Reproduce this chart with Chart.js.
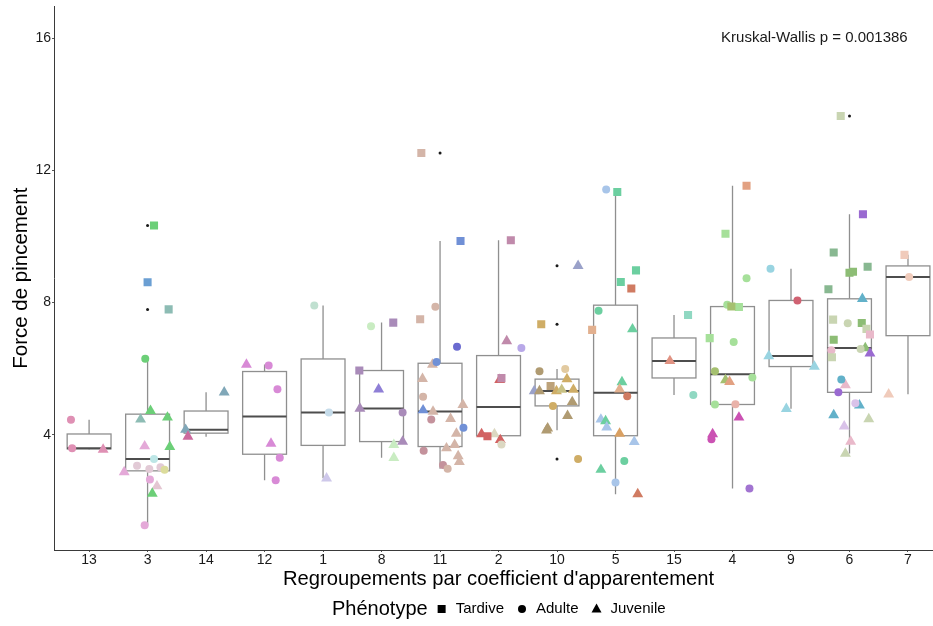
<!DOCTYPE html>
<html>
<head>
<meta charset="utf-8">
<title>Force de pincement</title>
<script src="https://cdn.jsdelivr.net/npm/chart.js@4.4.1/dist/chart.umd.min.js"></script>
<style>
	body { margin: 0; background: #fff; }
</style>
</head>
<body>
<canvas id="myChart" width="933" height="626"></canvas>
<script>
// groups, in the order of the x axis
const groups = ['13', '3', '14', '12', '1', '8', '11', '2', '10', '5', '15', '4', '9', '6', '7'];
const yTicks = [4, 8, 12, 16];
const statText = 'Kruskal-Wallis p = 0.001386';
const statAt = [12.4, 16]; // group units, force
const xTitle = "Regroupements par coefficient d'apparentement";

// rows: [group, jitter (in group units), force, family]
const tardive = [
	['3', 0.11, 10.33, 'green'], ['3', 0.00, 8.61, 'steel'], ['3', 0.36, 7.79, 'sea'],
	['8', 0.20, 7.39, 'mauve'], ['8', -0.38, 5.94, 'mauve'],
	['11', -0.32, 12.52, 'tan'], ['11', 0.35, 9.86, 'cobalt'], ['11', -0.34, 7.49, 'tan'],
	['2', 0.21, 9.88, 'plum'], ['2', 0.05, 5.71, 'plum'], ['2', -0.19, 3.95, 'brick'],
	['10', -0.27, 7.34, 'gold'], ['10', -0.11, 5.47, 'camel'],
	['5', 0.03, 11.34, 'aqua'], ['5', 0.35, 8.97, 'aqua'], ['5', 0.09, 8.62, 'aqua'],
	['5', 0.27, 8.42, 'rust'], ['5', -0.40, 7.17, 'peach'],
	['15', 0.24, 7.62, 'jade'],
	['4', 0.24, 11.53, 'apricot'], ['4', -0.12, 10.08, 'leaf'], ['4', 0.11, 7.86, 'leaf'],
	['4', -0.02, 7.88, 'moss'], ['4', -0.39, 6.92, 'leaf'],
	['6', -0.15, 13.64, 'sage'], ['6', 0.23, 10.67, 'purple'], ['6', -0.27, 9.51, 'fern'],
	['6', 0.00, 8.90, 'grass'], ['6', 0.06, 8.93, 'grass'], ['6', 0.31, 9.08, 'fern'],
	['6', -0.36, 8.40, 'fern'], ['6', -0.28, 7.48, 'sage'], ['6', 0.21, 7.38, 'grass'],
	['6', 0.29, 7.20, 'sage'], ['6', 0.35, 7.03, 'candy'], ['6', -0.27, 6.87, 'grass'],
	['6', -0.30, 6.34, 'sage'],
	['7', -0.06, 9.44, 'cream']
];

const adulte = [
	['13', -0.31, 4.45, 'rose'], ['13', -0.29, 3.59, 'rose'],
	['3', -0.04, 6.30, 'green'], ['3', 0.11, 3.26, 'ice'], ['3', -0.18, 3.06, 'blush'],
	['3', 0.03, 2.96, 'blush'], ['3', 0.22, 3.01, 'blush'], ['3', 0.29, 2.94, 'lime'],
	['3', 0.04, 2.64, 'orchid'], ['3', -0.05, 1.26, 'orchid'],
	['12', 0.07, 6.09, 'magenta'], ['12', 0.22, 5.37, 'magenta'], ['12', 0.26, 3.30, 'magenta'],
	['12', 0.19, 2.62, 'magenta'],
	['1', -0.15, 7.91, 'mint'], ['1', 0.10, 4.67, 'sky'],
	['8', -0.18, 7.28, 'pale'], ['8', 0.36, 4.67, 'mauve'],
	['11', -0.08, 7.87, 'tan'], ['11', 0.29, 6.66, 'indigo'], ['11', -0.06, 6.20, 'cobalt'],
	['11', -0.29, 5.15, 'tan'], ['11', -0.15, 4.46, 'rosewood'], ['11', 0.40, 4.21, 'cobalt'],
	['11', -0.28, 3.51, 'rosewood'], ['11', 0.05, 3.08, 'rosewood'], ['11', 0.13, 2.97, 'tan'],
	['2', 0.39, 6.62, 'lavender'], ['2', 0.05, 3.70, 'bone'],
	['10', -0.30, 5.92, 'khaki'], ['10', 0.14, 5.99, 'sand'], ['10', -0.07, 4.87, 'gold'],
	['10', 0.36, 3.26, 'gold'],
	['5', -0.16, 11.42, 'sky2'], ['5', -0.29, 7.75, 'aqua'], ['5', 0.20, 5.16, 'rust'],
	['5', 0.15, 3.20, 'aqua'], ['5', 0.00, 2.55, 'sky2'],
	['15', 0.33, 5.20, 'jade'],
	['4', 0.24, 8.73, 'leaf'], ['4', -0.09, 7.93, 'leaf'], ['4', 0.02, 6.80, 'leaf'],
	['4', -0.30, 5.92, 'moss'], ['4', 0.34, 5.73, 'leaf'], ['4', -0.30, 4.91, 'leaf'],
	['4', 0.05, 4.92, 'salmon'], ['4', -0.36, 3.86, 'fuchsia'], ['4', 0.29, 2.37, 'violet'],
	['9', -0.35, 9.02, 'cyan'], ['9', 0.11, 8.06, 'crimson'],
	['6', -0.03, 7.37, 'sage'], ['6', -0.31, 6.55, 'candy'], ['6', 0.19, 6.59, 'sage'],
	['6', -0.14, 5.67, 'teal'], ['6', -0.19, 5.28, 'purple'], ['6', 0.10, 4.95, 'thistle'],
	['7', 0.02, 8.77, 'cream']
];

const juvenile = [
	['13', 0.24, 3.55, 'rose'],
	['3', 0.05, 4.72, 'green'], ['3', -0.12, 4.46, 'sea'], ['3', 0.34, 4.52, 'green'],
	['3', -0.05, 3.65, 'orchid'], ['3', 0.38, 3.63, 'green'], ['3', -0.40, 2.87, 'orchid'],
	['3', 0.16, 2.44, 'shell'], ['3', 0.08, 2.22, 'green'],
	['14', 0.31, 5.28, 'slate'], ['14', -0.35, 4.15, 'slate'], ['14', -0.31, 3.94, 'berry'],
	['12', -0.31, 6.12, 'magenta'], ['12', 0.11, 3.73, 'magenta'],
	['1', 0.06, 2.68, 'lilac'],
	['8', -0.05, 5.37, 'iris'], ['8', -0.37, 4.79, 'mauve'], ['8', 0.21, 3.69, 'pale'],
	['8', 0.36, 3.79, 'mauve'], ['8', 0.21, 3.30, 'pale'],
	['11', -0.13, 6.12, 'tan'], ['11', -0.30, 5.69, 'tan'], ['11', 0.39, 4.90, 'tan'],
	['11', -0.29, 4.74, 'cobalt'], ['11', -0.12, 4.70, 'tan'], ['11', 0.18, 4.48, 'tan'],
	['11', 0.28, 4.03, 'tan'], ['11', 0.25, 3.69, 'tan'], ['11', 0.11, 3.59, 'tan'],
	['11', 0.31, 3.35, 'tan'], ['11', 0.33, 3.18, 'tan'],
	['2', 0.14, 6.83, 'plum'], ['2', 0.02, 5.66, 'brick'], ['2', -0.29, 4.02, 'brick'],
	['2', -0.07, 4.02, 'bone'], ['2', 0.03, 3.84, 'brick'],
	['10', 0.36, 9.11, 'dusk'], ['10', 0.17, 5.68, 'gold'], ['10', -0.39, 5.32, 'dusk'],
	['10', -0.30, 5.32, 'khaki'], ['10', -0.01, 5.32, 'gold'], ['10', 0.08, 5.36, 'olive'],
	['10', 0.28, 5.36, 'gold'], ['10', 0.26, 4.99, 'khaki'], ['10', 0.18, 4.57, 'khaki'],
	['10', -0.16, 4.19, 'khaki'], ['10', -0.18, 4.13, 'khaki'],
	['5', 0.29, 7.19, 'aqua'], ['5', 0.11, 5.59, 'aqua'], ['5', 0.07, 5.37, 'peach'],
	['5', -0.25, 4.46, 'sky2'], ['5', -0.17, 4.41, 'aqua'], ['5', -0.15, 4.22, 'sky2'],
	['5', 0.07, 4.03, 'amber'], ['5', 0.32, 3.78, 'sky2'], ['5', -0.25, 2.94, 'aqua'],
	['5', 0.38, 2.20, 'rust'],
	['15', -0.07, 6.23, 'coral'],
	['4', -0.12, 5.65, 'moss'], ['4', -0.05, 5.60, 'apricot'], ['4', 0.11, 4.52, 'fuchsia'],
	['4', -0.34, 4.02, 'fuchsia'],
	['9', -0.38, 6.38, 'cyan'], ['9', 0.40, 6.06, 'cyan'], ['9', -0.08, 4.78, 'cyan'],
	['6', 0.22, 8.11, 'teal'], ['6', 0.27, 6.62, 'grass'], ['6', 0.35, 6.46, 'purple'],
	['6', -0.07, 5.50, 'candy'], ['6', 0.17, 4.89, 'teal'], ['6', -0.27, 4.59, 'teal'],
	['6', 0.33, 4.47, 'sage'], ['6', -0.09, 4.25, 'thistle'], ['6', 0.02, 3.79, 'candy'],
	['6', -0.07, 3.43, 'sage'],
	['7', -0.33, 5.22, 'cream']
];

const palette = {
	rose: '#df90b4', green: '#6ccf78', steel: '#6b9fd3', sea: '#8dbcb4', orchid: '#e4a9d8',
	ice: '#bde6e6', blush: '#e2cad6', lime: '#dcdc9c', shell: '#e4c6d2', slate: '#80a7b8',
	berry: '#cc6a9e', magenta: '#d88ad6', mint: '#c0e0d0', sky: '#c6dcea', lilac: '#cec8ea',
	pale: '#c9ecc2', mauve: '#a98bb9', iris: '#8f7fd6', tan: '#d4b5a8', cobalt: '#7090d6',
	indigo: '#6b6bd0', rosewood: '#c4929c', plum: '#c08aab', lavender: '#b8a8e8', brick: '#d26262',
	bone: '#dcd8c2', dusk: '#9aa1c9', gold: '#cfad66', khaki: '#b09b72', sand: '#e2caa0',
	olive: '#c8c184', camel: '#bda27a', aqua: '#6ccfa0', sky2: '#a8c5e9', rust: '#d07b62',
	peach: '#e2b08f', amber: '#d9a062', jade: '#90d8c2', coral: '#e09282', leaf: '#a6e09a',
	moss: '#a5c070', apricot: '#e2a182', salmon: '#e9b2a9', fuchsia: '#cb52b3', violet: '#a274d1',
	cyan: '#99d4e1', crimson: '#d06272', sage: '#c9d5b2', purple: '#9a6ad1', fern: '#88b891',
	grass: '#8dbd75', teal: '#62b1c9', candy: '#e9b9ca', thistle: '#d9c2e9', cream: '#f0cbbb'
};

const fontFamily = "'Liberation Sans', Arial, sans-serif";
Chart.defaults.font.family = fontFamily;

function toPoints(rows) {
	return rows.map(r => ({x: groups.indexOf(r[0]) + r[1], y: r[2]}));
}
function toColours(rows) {
	return rows.map(r => palette[r[3]]);
}

// same quantiles as R (type 7)
function quantile(sorted, p) {
	const h = (sorted.length - 1) * p;
	const lo = Math.floor(h);
	const next = lo + 1 < sorted.length ? sorted[lo + 1] : sorted[lo];
	return sorted[lo] + (h - lo) * (next - sorted[lo]);
}
function boxStats(g) {
	const vals = [...tardive, ...adulte, ...juvenile]
		.filter(r => r[0] === g).map(r => r[2]).sort((a, b) => a - b);
	const q1 = quantile(vals, 0.25), med = quantile(vals, 0.5), q3 = quantile(vals, 0.75);
	const lowFence = q1 - 1.5 * (q3 - q1), highFence = q3 + 1.5 * (q3 - q1);
	const inside = vals.filter(v => v >= lowFence && v <= highFence);
	return {
		q1, med, q3,
		lo: Math.min(...inside), hi: Math.max(...inside),
		out: vals.filter(v => v < lowFence || v > highFence)
	};
}

const boxPlugin = {
	id: 'boxes',
	beforeDatasetsDraw(chart) {
		const {ctx, scales: {x, y}} = chart;
		ctx.save();
		groups.forEach((g, i) => {
			const s = boxStats(g);
			const xl = x.getPixelForValue(i - 0.375);
			const xr = x.getPixelForValue(i + 0.375);
			const xc = x.getPixelForValue(i);
			const top = y.getPixelForValue(s.q3);
			const bot = y.getPixelForValue(s.q1);
			ctx.strokeStyle = '#8f8f8f';
			ctx.lineWidth = 1.3;
			ctx.beginPath();
			ctx.moveTo(xc, top);
			ctx.lineTo(xc, y.getPixelForValue(s.hi));
			ctx.moveTo(xc, bot);
			ctx.lineTo(xc, y.getPixelForValue(s.lo));
			ctx.stroke();
			ctx.fillStyle = '#ffffff';
			ctx.fillRect(xl, top, xr - xl, bot - top);
			ctx.strokeRect(xl, top, xr - xl, bot - top);
			const ym = y.getPixelForValue(s.med);
			ctx.strokeStyle = '#4d4d4d';
			ctx.lineWidth = 2;
			ctx.beginPath();
			ctx.moveTo(xl, ym);
			ctx.lineTo(xr, ym);
			ctx.stroke();
			ctx.fillStyle = '#1a1a1a';
			s.out.forEach(v => {
				ctx.beginPath();
				ctx.arc(xc, y.getPixelForValue(v), 1.5, 0, Math.PI * 2);
				ctx.fill();
			});
		});
		ctx.restore();
	}
};

// stat label, x title (centred on the middle group) and the bottom legend
const notesPlugin = {
	id: 'notes',
	afterDraw(chart) {
		const {ctx, chartArea, scales: {x, y}} = chart;
		ctx.save();
		// the panel runs on to the right edge of the picture
		ctx.strokeStyle = '#3a3a3a';
		ctx.lineWidth = 1;
		ctx.beginPath();
		ctx.moveTo(chartArea.right, chartArea.bottom + 0.5);
		ctx.lineTo(chart.width, chartArea.bottom + 0.5);
		ctx.stroke();

		ctx.fillStyle = '#1a1a1a';
		ctx.textBaseline = 'middle';
		ctx.textAlign = 'center';
		ctx.font = '15px ' + fontFamily;
		ctx.fillText(statText, x.getPixelForValue(statAt[0]), y.getPixelForValue(statAt[1]));

		ctx.fillStyle = '#000000';
		ctx.font = '20.2px ' + fontFamily;
		ctx.fillText(xTitle, x.getPixelForValue((groups.length - 1) / 2), 579);

		const ly = 609;
		let lx = 332;
		ctx.textAlign = 'left';
		ctx.font = '20px ' + fontFamily;
		ctx.fillText('Phénotype', lx, ly);
		lx += ctx.measureText('Phénotype').width + 14;
		ctx.font = '15px ' + fontFamily;
		const items = [['Tardive', 'rect'], ['Adulte', 'circle'], ['Juvenile', 'triangle']];
		items.forEach(([label, shape]) => {
			ctx.beginPath();
			if (shape === 'rect') {
				ctx.rect(lx - 4, ly - 4, 8, 8);
			} else if (shape === 'circle') {
				ctx.arc(lx, ly, 4, 0, Math.PI * 2);
			} else {
				ctx.moveTo(lx, ly - 5.5);
				ctx.lineTo(lx + 5, ly + 3.5);
				ctx.lineTo(lx - 5, ly + 3.5);
				ctx.closePath();
			}
			ctx.fill();
			lx += 14;
			ctx.fillText(label, lx, ly);
			lx += ctx.measureText(label).width + 18;
		});
		ctx.restore();
	}
};

const tickFont = {size: 14};
const axisBorder = {display: true, color: '#3a3a3a', width: 1};
const axisGrid = {display: true, drawOnChartArea: false, drawTicks: true, tickLength: 2, tickColor: '#555555'};

const ctx = document.getElementById('myChart').getContext('2d');
const myChart = new Chart(ctx, {
	type: 'scatter',
	data: {
		datasets: [{
			label: 'Tardive',
			data: toPoints(tardive),
			pointStyle: 'rect',
			pointRadius: 5.7,
			pointBackgroundColor: toColours(tardive),
			pointBorderWidth: 0
		}, {
			label: 'Adulte',
			data: toPoints(adulte),
			pointStyle: 'circle',
			pointRadius: 4,
			pointBackgroundColor: toColours(adulte),
			pointBorderWidth: 0
		}, {
			label: 'Juvenile',
			data: toPoints(juvenile),
			pointStyle: 'triangle',
			pointRadius: 6.3,
			pointBackgroundColor: toColours(juvenile),
			pointBorderWidth: 0
		}]
	},
	options: {
		responsive: false,
		animation: false,
		events: [],
		devicePixelRatio: 1,
		layout: {padding: {top: 5, right: 1, left: 0, bottom: 0}},
		plugins: {
			legend: {display: false},
			tooltip: {enabled: false}
		},
		scales: {
			x: {
				type: 'linear',
				min: -0.6,
				max: 14.32,
				afterBuildTicks: s => { s.ticks = groups.map((g, i) => ({value: i})); },
				afterFit: s => { s.height = 76; },
				ticks: {
					callback: v => groups[v],
					autoSkip: false,
					maxRotation: 0,
					padding: 0,
					color: '#1a1a1a',
					font: tickFont
				},
				grid: axisGrid,
				border: axisBorder,
				title: {display: false}
			},
			y: {
				type: 'linear',
				min: 0.51,
				max: 16.96,
				afterBuildTicks: s => { s.ticks = yTicks.map(v => ({value: v})); },
				afterFit: s => { s.width = 54; s.paddingTop = 0; s.paddingBottom = 0; },
				ticks: {
					padding: 1,
					color: '#1a1a1a',
					font: tickFont
				},
				grid: axisGrid,
				border: axisBorder,
				title: {
					display: true,
					text: 'Force de pincement',
					color: '#000000',
					font: {size: 20.5},
					padding: {top: 9, bottom: 0}
				}
			}
		}
	},
	plugins: [boxPlugin, notesPlugin]
});
</script>
</body>
</html>
